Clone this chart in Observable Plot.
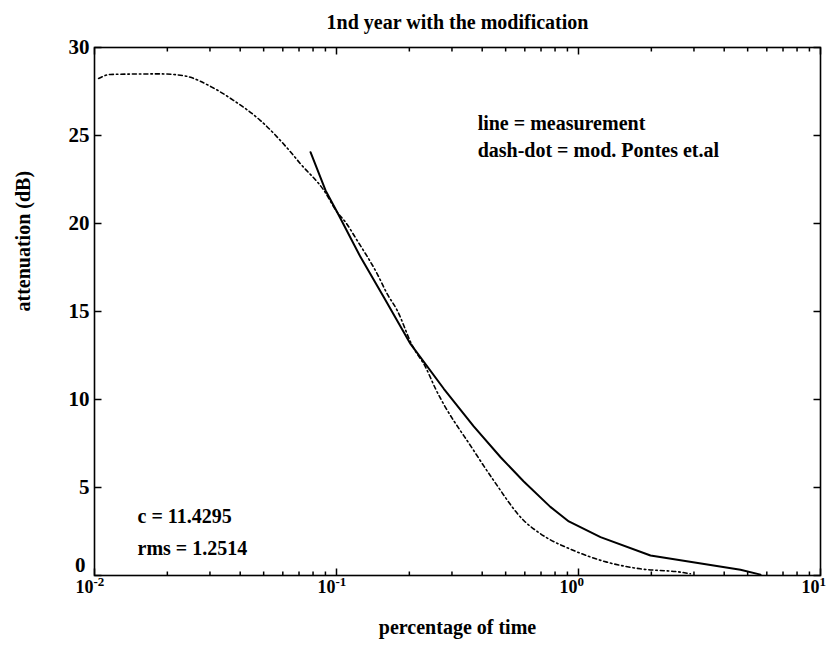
<!DOCTYPE html>
<html>
<head>
<meta charset="utf-8">
<script src="https://cdn.jsdelivr.net/npm/d3@7"></script>
<script src="https://cdn.jsdelivr.net/npm/@observablehq/plot@0.6"></script>
<style>
  html, body { margin: 0; padding: 0; background: #fff; }
</style>
</head>
<body>
<div id="chart"></div>
<script>
// Measurement (solid line)
const measX = [0.0781, 0.0901, 0.1007, 0.1257, 0.1569, 0.2022, 0.2776, 0.369, 0.4766, 0.594, 0.765, 0.912, 1.233, 1.984, 4.67, 5.65];
const measY = [24.05, 21.88, 20.64, 18.09, 15.81, 13.16, 10.61, 8.47, 6.72, 5.34, 3.90, 3.07, 2.18, 1.14, 0.33, 0.05];

// Modified Pontes et al. model (dash-dot line)
const modX = [0.0104, 0.01165, 0.01874, 0.02333, 0.0310, 0.0375, 0.0485, 0.0628, 0.0710, 0.0887, 0.1007, 0.1090, 0.1218, 0.1473, 0.1620, 0.1782, 0.2055, 0.2333, 0.2566, 0.369, 0.446, 0.594, 0.697, 0.955, 1.31, 1.80, 2.64, 2.9];
const modY = [28.24, 28.47, 28.5, 28.4, 27.7, 27.0, 25.85, 24.26, 23.39, 21.88, 20.64, 20.07, 19.03, 17.14, 16.0, 15.06, 13.07, 11.84, 10.61, 7.10, 5.40, 3.125, 2.37, 1.42, 0.76, 0.38, 0.19, 0.1];

// Axis ticks
const xMajor = [0.01, 0.1, 1, 10];
const xExponents = ["-2", "-1", "0", "1"];
const xMinor = [0.02, 0.03, 0.04, 0.05, 0.06, 0.07, 0.08, 0.09,
                0.2, 0.3, 0.4, 0.5, 0.6, 0.7, 0.8, 0.9,
                2, 3, 4, 5, 6, 7, 8, 9];
const yTicks = [0, 5, 10, 15, 20, 25, 30];

// Texts
const titleText = "1nd year with the modification";
const xLabel = "percentage of time";
const yLabel = "attenuation (dB)";
const legendLines = ["line = measurement", "dash-dot = mod. Pontes et.al"];
const legendX = [0.383, 0.383];
const legendY = [25.3, 23.8];
const statLines = ["c = 11.4295", "rms = 1.2514"];
const statX = [0.01506, 0.01506];
const statY = [3.01, 1.19];

const meas = measX.map((x, i) => ({x, y: measY[i]}));
const mod = modX.map((x, i) => ({x, y: modY[i]}));
const legend = legendLines.map((t, i) => ({t, x: legendX[i], y: legendY[i]}));
const stats = statLines.map((t, i) => ({t, x: statX[i], y: statY[i]}));
const majors = xMajor.map((x, i) => ({x, e: xExponents[i]}));

const font = "'Liberation Serif', 'Times New Roman', serif";
const W = 829, H = 647, mL = 94, mR = 9, mT = 47, mB = 72;
const plotW = W - mL - mR, plotH = H - mT - mB;
const xDomain = [0.01, 10], yDomain = [0, 30];
const T = 7, t = 4;   // major / minor tick length in px
// convert a pixel tick length into data units along each scale
const dyPx = px => px * (yDomain[1] - yDomain[0]) / plotH;
const xFactor = px => Math.pow(10, px * Math.log10(xDomain[1] / xDomain[0]) / plotW);
const tickStyle = {stroke: "#000", strokeWidth: 1.5};

const xTickLinks = (vals, len) => [
  ...vals.map(v => ({x1: v, x2: v, y1: yDomain[0], y2: yDomain[0] + dyPx(len)})),
  ...vals.map(v => ({x1: v, x2: v, y1: yDomain[1], y2: yDomain[1] - dyPx(len)}))
];
const yTickLinks = (vals, len) => [
  ...vals.map(v => ({x1: xDomain[0], x2: xDomain[0] * xFactor(len), y1: v, y2: v})),
  ...vals.map(v => ({x1: xDomain[1], x2: xDomain[1] / xFactor(len), y1: v, y2: v}))
];
const tickLinks = [...xTickLinks(xMajor, T), ...xTickLinks(xMinor, t), ...yTickLinks(yTicks, T)];

const chart = Plot.plot({
  width: W,
  height: H,
  marginLeft: mL,
  marginRight: mR,
  marginTop: mT,
  marginBottom: mB,
  style: {fontFamily: font, background: "#fff", color: "#000"},
  x: {type: "log", domain: xDomain, axis: null},
  y: {domain: yDomain, axis: null},
  marks: [
    // frame
    Plot.frame({stroke: "#000", strokeWidth: 1.6}),
    // y tick labels (0 sits a little higher, clear of the x labels)
    Plot.text(yTicks.filter(d => d !== 0), {y: d => d, frameAnchor: "left", text: d => String(d), textAnchor: "end", lineAnchor: "middle", dx: -5, fontSize: 21, fontWeight: "bold", fill: "#000"}),
    Plot.text(yTicks.filter(d => d === 0), {y: d => d, frameAnchor: "left", text: d => String(d), textAnchor: "end", lineAnchor: "middle", dx: -9, dy: -10, fontSize: 21, fontWeight: "bold", fill: "#000"}),
    // x tick labels: "10" with superscript exponent
    Plot.text(majors, {x: "x", frameAnchor: "bottom", text: () => "10", textAnchor: "end", lineAnchor: "bottom", dx: -1, dy: 17, fontSize: 18, fontWeight: "bold", fill: "#000"}),
    Plot.text(majors, {x: "x", frameAnchor: "bottom", text: "e", textAnchor: "start", lineAnchor: "bottom", dx: -1, dy: 10, fontSize: 13, fontWeight: "bold", fill: "#000"}),
    // data lines
    Plot.line(mod, {x: "x", y: "y", stroke: "#000", strokeWidth: 1.6, strokeDasharray: "4,3,1.5,3", curve: "monotone-x"}),
    Plot.line(meas, {x: "x", y: "y", stroke: "#000", strokeWidth: 2, curve: "linear"}),
    // annotations
    Plot.text(legend, {x: "x", y: "y", text: "t", textAnchor: "start", lineAnchor: "bottom", fontSize: 20, fontWeight: "bold", fill: "#000"}),
    Plot.text(stats, {x: "x", y: "y", text: "t", textAnchor: "start", lineAnchor: "bottom", fontSize: 20, fontWeight: "bold", fill: "#000"}),
    // title and axis labels
    Plot.text([titleText], {frameAnchor: "top", text: d => d, lineAnchor: "bottom", dy: -19, fontSize: 20, fontWeight: "bold", fill: "#000"}),
    Plot.text([xLabel], {frameAnchor: "bottom", text: d => d, lineAnchor: "bottom", dy: 58, fontSize: 20, fontWeight: "bold", fill: "#000"}),
    Plot.text([yLabel], {frameAnchor: "left", text: d => d, rotate: -90, lineAnchor: "middle", dx: -71, fontSize: 20, fontWeight: "bold", fill: "#000"}),
    // inward ticks on all four sides, drawn last
    Plot.link(tickLinks, {x1: "x1", x2: "x2", y1: "y1", y2: "y2", ...tickStyle})
  ]
});

document.getElementById("chart").appendChild(chart);
</script>
</body>
</html>
